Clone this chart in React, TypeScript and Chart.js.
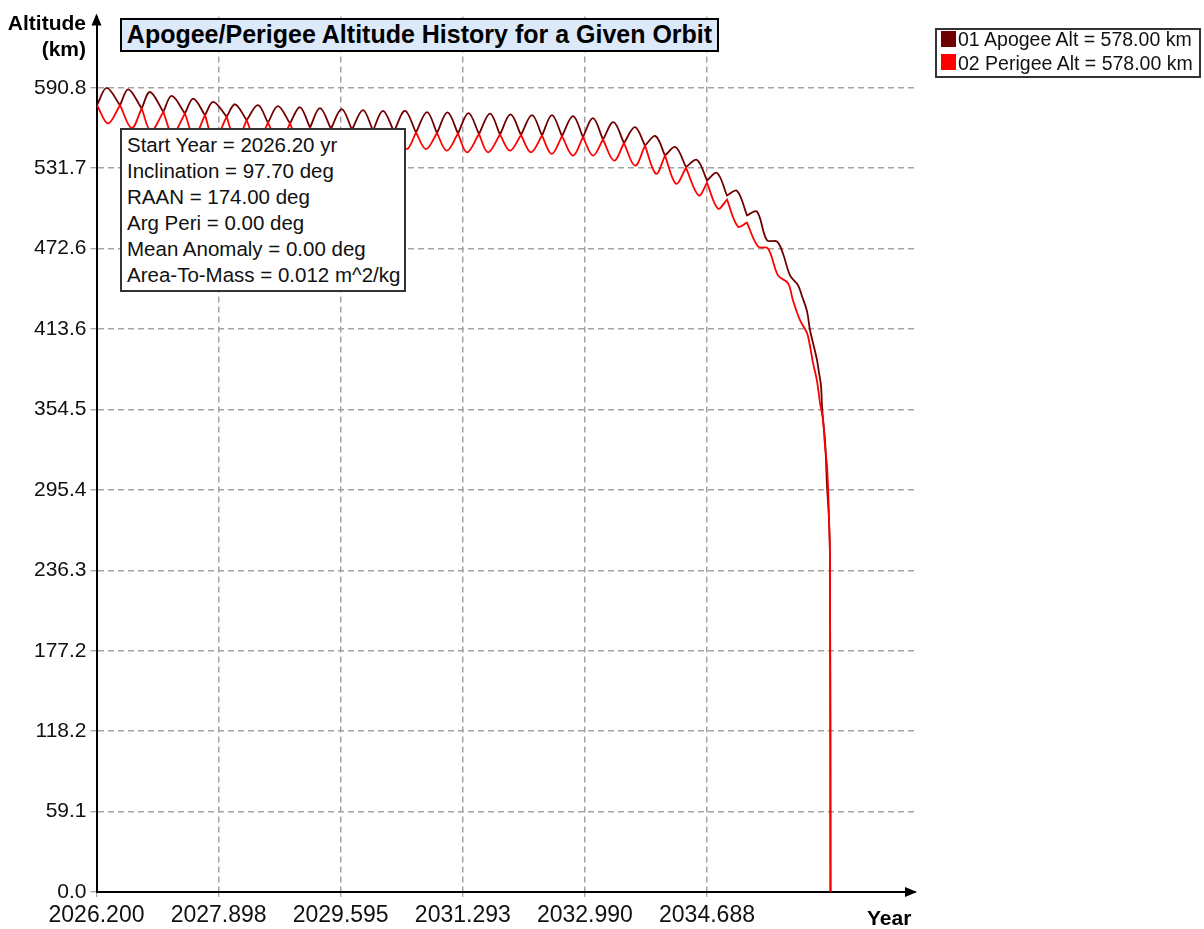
import React, { useEffect, useRef } from "react";
import { Chart, registerables } from "chart.js";

Chart.register(...registerables);

// ---- Data ----
const TITLE = "Apogee/Perigee Altitude History for a Given Orbit";
const SERIES_NAMES = ["01 Apogee Alt = 578.00 km", "02 Perigee Alt = 578.00 km"];
const SERIES_COLORS = ["#700000", "#ff0000"];
const INFO_LINES = [
  "Start Year = 2026.20 yr",
  "Inclination = 97.70 deg",
  "RAAN = 174.00 deg",
  "Arg Peri = 0.00 deg",
  "Mean Anomaly = 0.00 deg",
  "Area-To-Mass = 0.012 m^2/kg",
];

const X_TICKS = [2026.2, 2027.898, 2029.595, 2031.293, 2032.99, 2034.688];
const Y_TICKS = [0.0, 59.1, 118.2, 177.2, 236.3, 295.4, 354.5, 413.6, 472.6, 531.7, 590.8];
const X_MIN = 2026.2;
const X_MAX = 2037.58;
const Y_MIN = 0;
const Y_MAX = 643.1;

const APOGEE_YEAR = [
  2026.207, 2026.342, 2026.527, 2026.642, 2026.828, 2026.944, 2027.129, 2027.246, 2027.43, 2027.546,
  2027.708, 2027.824, 2028.01, 2028.126, 2028.288, 2028.445, 2028.584, 2028.723, 2028.89, 2029.029,
  2029.168, 2029.307, 2029.46, 2029.609, 2029.752, 2029.905, 2030.044, 2030.183, 2030.336, 2030.489,
  2030.642, 2030.795, 2030.934, 2031.08, 2031.226, 2031.372, 2031.518, 2031.671, 2031.81, 2031.956,
  2032.102, 2032.255, 2032.394, 2032.533, 2032.672, 2032.825, 2032.964, 2033.103, 2033.242, 2033.388,
  2033.534, 2033.687, 2033.826, 2033.972, 2034.104, 2034.25, 2034.396, 2034.549, 2034.688, 2034.827,
  2034.966, 2035.105, 2035.244, 2035.383, 2035.522, 2035.661, 2035.744, 2035.842, 2035.953, 2036.009,
  2036.078, 2036.12, 2036.162, 2036.217, 2036.245, 2036.273, 2036.287, 2036.301, 2036.328, 2036.342,
  2036.356, 2036.384, 2036.398, 2036.405,
];
const APOGEE_KM = [
  578.0, 590.8, 578.0, 589.7, 575.6, 587.7, 573.1, 584.8, 571.9, 582.9,
  570.7, 580.4, 569.5, 578.7, 567.0, 578.0, 565.1, 577.3, 564.6, 576.5,
  561.6, 575.8, 560.8, 575.1, 560.1, 574.4, 559.4, 573.8, 558.6, 573.8,
  557.9, 572.9, 557.5, 572.7, 557.2, 572.2, 556.8, 571.8, 556.4, 571.2,
  556.1, 570.7, 555.7, 570.7, 555.3, 570.0, 554.6, 568.5, 552.8, 565.6,
  550.2, 561.9, 548.3, 555.3, 541.0, 547.3, 532.5, 537.8, 522.7, 528.3,
  511.7, 515.1, 497.1, 499.8, 478.8, 477.9, 469.1, 453.0, 445.7, 437.7,
  426.7, 412.7, 403.4, 390.9, 381.5, 372.0, 357.2, 347.0, 332.4, 317.8,
  298.8, 274.0, 244.7, 0.0,
];

const PERIGEE_YEAR = [
  2026.207, 2026.36, 2026.527, 2026.689, 2026.828, 2026.958, 2027.129, 2027.257, 2027.43, 2027.556,
  2027.708, 2027.834, 2028.01, 2028.14, 2028.288, 2028.431, 2028.584, 2028.737, 2028.89, 2029.029,
  2029.168, 2029.307, 2029.46, 2029.609, 2029.752, 2029.905, 2030.044, 2030.183, 2030.336, 2030.512,
  2030.642, 2030.781, 2030.934, 2031.069, 2031.226, 2031.351, 2031.518, 2031.643, 2031.81, 2031.949,
  2032.102, 2032.241, 2032.394, 2032.529, 2032.672, 2032.825, 2032.964, 2033.103, 2033.242, 2033.395,
  2033.534, 2033.687, 2033.826, 2033.979, 2034.104, 2034.257, 2034.396, 2034.573, 2034.688, 2034.841,
  2034.966, 2035.119, 2035.244, 2035.397, 2035.536, 2035.675, 2035.814, 2035.883, 2035.981, 2036.078,
  2036.12, 2036.162, 2036.217, 2036.259, 2036.301, 2036.328, 2036.356, 2036.374, 2036.384, 2036.398,
  2036.405,
];
const PERIGEE_KM = [
  578.0, 564.6, 578.0, 561.2, 575.6, 559.0, 573.1, 557.0, 571.9, 555.1,
  570.7, 552.6, 569.5, 551.0, 567.0, 550.2, 565.1, 549.5, 564.6, 548.8,
  561.6, 548.0, 560.8, 547.3, 560.1, 546.6, 559.4, 546.2, 558.6, 545.8,
  557.9, 545.8, 557.5, 544.6, 557.2, 543.4, 556.8, 543.4, 556.4, 544.6,
  556.1, 543.4, 555.7, 542.2, 555.3, 541.0, 554.6, 541.0, 552.8, 537.3,
  550.2, 533.6, 548.3, 527.6, 541.0, 520.3, 532.0, 511.7, 521.0, 502.0,
  508.6, 488.8, 491.7, 474.2, 472.7, 453.0, 447.2, 434.7, 420.1, 410.7,
  401.1, 388.7, 375.6, 359.4, 347.0, 328.1, 313.4, 293.7, 274.0, 244.7,
  0.0,
];

// Build point list; the turning points where apogee meets perigee are sharp
// corners, so those read values are entered twice for the spline.
function buildPoints(xs: number[], ys: number[], cuspIsLow: boolean) {
  const pts: { x: number; y: number }[] = [];
  for (let i = 0; i < xs.length; i++) {
    pts.push({ x: xs[i], y: ys[i] });
    if (i > 0 && i < xs.length - 1) {
      const cusp = cuspIsLow
        ? ys[i] < ys[i - 1] && ys[i] < ys[i + 1]
        : ys[i] > ys[i - 1] && ys[i] > ys[i + 1];
      if (cusp) pts.push({ x: xs[i], y: ys[i] });
    }
  }
  return pts;
}

const FONT = "'Liberation Sans', Arial, Helvetica, sans-serif";

const arrowPlugin = {
  id: "axisArrows",
  afterDraw(chart: any) {
    const { ctx, chartArea } = chart;
    const { left, top, right, bottom } = chartArea;
    ctx.save();
    ctx.fillStyle = "#000";
    ctx.beginPath();
    ctx.moveTo(left, top - 3);
    ctx.lineTo(left - 5, top + 9);
    ctx.lineTo(left + 5, top + 9);
    ctx.closePath();
    ctx.fill();
    ctx.beginPath();
    ctx.moveTo(right + 2, bottom);
    ctx.lineTo(right - 10, bottom - 5);
    ctx.lineTo(right - 10, bottom + 5);
    ctx.closePath();
    ctx.fill();
    ctx.restore();
  },
};

export default function App() {
  const canvasRef = useRef<HTMLCanvasElement | null>(null);

  useEffect(() => {
    if (!canvasRef.current) return;
    const gridColor = (edge: number) => (c: any) =>
      c.tick && Math.abs(c.tick.value - edge) < 1e-6 ? "rgba(0,0,0,0)" : "#a3a3a3";
    const chart = new Chart(canvasRef.current, {
      type: "line",
      data: {
        datasets: [
          {
            label: SERIES_NAMES[0],
            data: buildPoints(APOGEE_YEAR, APOGEE_KM, true),
            borderColor: SERIES_COLORS[0],
            backgroundColor: SERIES_COLORS[0],
            borderWidth: 1.8,
            pointRadius: 0,
            tension: 0.35,
            fill: false,
            order: 1,
          },
          {
            label: SERIES_NAMES[1],
            data: buildPoints(PERIGEE_YEAR, PERIGEE_KM, false),
            borderColor: SERIES_COLORS[1],
            backgroundColor: SERIES_COLORS[1],
            borderWidth: 1.8,
            pointRadius: 0,
            tension: 0.35,
            fill: false,
            order: 0,
          },
        ],
      },
      options: {
        animation: false,
        responsive: false,
        maintainAspectRatio: false,
        devicePixelRatio: 1,
        layout: { padding: { left: 0, top: 12, right: 289, bottom: 0 } },
        plugins: {
          legend: { display: false },
          title: { display: false },
          tooltip: { enabled: false },
        },
        scales: {
          x: {
            type: "linear",
            min: X_MIN,
            max: X_MAX,
            afterBuildTicks: (s: any) => {
              s.ticks = X_TICKS.map((v) => ({ value: v }));
            },
            afterFit: (s: any) => {
              s.height = 37;
            },
            ticks: {
              autoSkip: false,
              maxRotation: 0,
              padding: 5,
              color: "#111",
              font: { family: FONT, size: 23 },
              callback: (v: any) => Number(v).toFixed(3),
            },
            grid: {
              color: gridColor(X_MIN),
              lineWidth: 1.5,
              tickColor: "#888",
              tickLength: 5,
              tickWidth: 1,
              tickBorderDash: [],
            },
            border: { display: true, color: "#000", width: 2, dash: [6, 4] },
          },
          y: {
            type: "linear",
            min: Y_MIN,
            max: Y_MAX,
            afterBuildTicks: (s: any) => {
              s.ticks = Y_TICKS.map((v) => ({ value: v }));
            },
            afterFit: (s: any) => {
              s.width = 96.5;
            },
            ticks: {
              autoSkip: false,
              padding: 4,
              color: "#111",
              font: { family: FONT, size: 21 },
              callback: (v: any) => Number(v).toFixed(1),
            },
            grid: {
              color: gridColor(Y_MIN),
              lineWidth: 1.5,
              tickColor: "#888",
              tickLength: 6,
              tickWidth: 1,
              tickBorderDash: [],
            },
            border: { display: true, color: "#000", width: 2, dash: [6, 4] },
          },
        },
      } as any,
      plugins: [arrowPlugin],
    });
    return () => chart.destroy();
  }, []);

  const abs: React.CSSProperties = { position: "absolute", boxSizing: "border-box" };

  return (
    <div style={{ position: "absolute", left: 0, top: 0, width: 1204, height: 929, background: "#fff", overflow: "hidden", fontFamily: FONT }}>
      <canvas ref={canvasRef} width={1204} height={929} style={{ position: "absolute", left: 0, top: 0, width: 1204, height: 929 }} />

      <div style={{ ...abs, left: 0, top: 10, width: 86, textAlign: "right", fontWeight: "bold", fontSize: 21, lineHeight: "26px", color: "#000" }}>
        <div>Altitude</div>
        <div>(km)</div>
      </div>

      <div style={{ ...abs, left: 867, top: 905, fontWeight: "bold", fontSize: 21, lineHeight: "26px", color: "#000" }}>Year</div>

      <div style={{ ...abs, left: 120, top: 18, width: 599, height: 34, border: "2px solid #000", background: "#dbe9f9", textAlign: "center", fontWeight: "bold", fontSize: 25, lineHeight: "29px", color: "#000", whiteSpace: "nowrap" }}>
        {TITLE}
      </div>

      <div style={{ ...abs, left: 120, top: 128, width: 286, height: 164, border: "2px solid #333", background: "#fff", padding: "2px 0 0 5px", fontSize: 20.5, lineHeight: "26px", color: "#111", whiteSpace: "nowrap" }}>
        {INFO_LINES.map((t) => (
          <div key={t}>{t}</div>
        ))}
      </div>

      <div style={{ ...abs, left: 935, top: 28, width: 266, height: 50, border: "2px solid #333", background: "#fff" }} />
      {SERIES_NAMES.map((name, i) => (
        <React.Fragment key={name}>
          <div style={{ ...abs, left: 941, top: 31 + i * 23, width: 15, height: 16, background: SERIES_COLORS[i] }} />
          <div style={{ ...abs, left: 958, top: 27 + i * 24, fontSize: 19.5, lineHeight: "24px", color: "#111", whiteSpace: "nowrap" }}>{name}</div>
        </React.Fragment>
      ))}
    </div>
  );
}
